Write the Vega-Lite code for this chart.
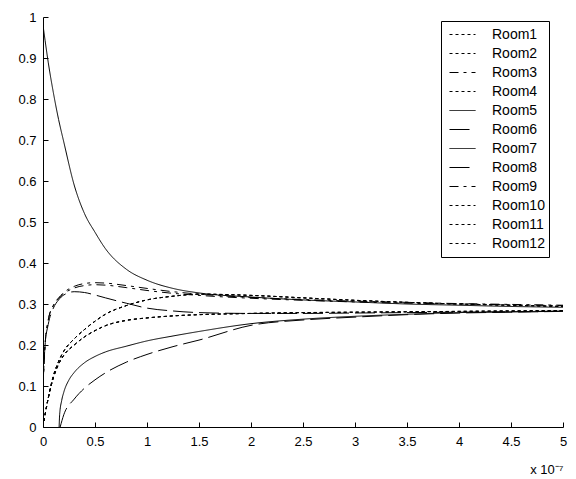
{
  "$schema": "https://vega.github.io/schema/vega-lite/v6.json",
  "width": 520,
  "height": 410,
  "autosize": {"type": "none"},
  "padding": {"left": 43, "top": 17, "right": 13, "bottom": 52},
  "background": "white",
  "config": {
    "view": {"stroke": null},
    "font": "Liberation Sans",
    "axis": {
      "domainColor": "black", "tickColor": "black", "labelColor": "black",
      "labelFont": "Liberation Sans", "labelFontSize": 13, "grid": false,
      "domainWidth": 1, "tickWidth": 1
    }
  },
  "data": {"values": [
    {"room":"Room7","t":0,"v":0.98},{"room":"Room7","t":0.02,"v":0.943},{"room":"Room7","t":0.05,"v":0.89},{"room":"Room7","t":0.1,"v":0.815},{"room":"Room7","t":0.15,"v":0.75},{"room":"Room7","t":0.2,"v":0.695},{"room":"Room7","t":0.3,"v":0.59},{"room":"Room7","t":0.4,"v":0.52},{"room":"Room7","t":0.5,"v":0.475},{"room":"Room7","t":0.6,"v":0.435},{"room":"Room7","t":0.8,"v":0.385},{"room":"Room7","t":1,"v":0.358},{"room":"Room7","t":1.25,"v":0.338},{"room":"Room7","t":1.5,"v":0.327},{"room":"Room7","t":2,"v":0.317},{"room":"Room7","t":2.5,"v":0.31},{"room":"Room7","t":3,"v":0.305},{"room":"Room7","t":3.5,"v":0.3},{"room":"Room7","t":4,"v":0.297},{"room":"Room7","t":4.5,"v":0.294},{"room":"Room7","t":5,"v":0.292},

    {"room":"Room3","t":0,"v":0.1},{"room":"Room3","t":0.02,"v":0.2},{"room":"Room3","t":0.05,"v":0.26},{"room":"Room3","t":0.1,"v":0.297},{"room":"Room3","t":0.15,"v":0.315},{"room":"Room3","t":0.2,"v":0.328},{"room":"Room3","t":0.3,"v":0.343},{"room":"Room3","t":0.4,"v":0.35},{"room":"Room3","t":0.5,"v":0.352},{"room":"Room3","t":0.6,"v":0.351},{"room":"Room3","t":0.8,"v":0.345},{"room":"Room3","t":1,"v":0.338},{"room":"Room3","t":1.25,"v":0.33},{"room":"Room3","t":1.5,"v":0.324},{"room":"Room3","t":2,"v":0.316},{"room":"Room3","t":2.5,"v":0.311},{"room":"Room3","t":3,"v":0.307},{"room":"Room3","t":3.5,"v":0.304},{"room":"Room3","t":4,"v":0.301},{"room":"Room3","t":4.5,"v":0.299},{"room":"Room3","t":5,"v":0.297},

    {"room":"Room9","t":0,"v":0.1},{"room":"Room9","t":0.02,"v":0.2},{"room":"Room9","t":0.05,"v":0.26},{"room":"Room9","t":0.1,"v":0.296},{"room":"Room9","t":0.15,"v":0.313},{"room":"Room9","t":0.2,"v":0.325},{"room":"Room9","t":0.3,"v":0.339},{"room":"Room9","t":0.4,"v":0.345},{"room":"Room9","t":0.5,"v":0.347},{"room":"Room9","t":0.6,"v":0.346},{"room":"Room9","t":0.8,"v":0.34},{"room":"Room9","t":1,"v":0.333},{"room":"Room9","t":1.25,"v":0.326},{"room":"Room9","t":1.5,"v":0.321},{"room":"Room9","t":2,"v":0.314},{"room":"Room9","t":2.5,"v":0.309},{"room":"Room9","t":3,"v":0.305},{"room":"Room9","t":3.5,"v":0.302},{"room":"Room9","t":4,"v":0.3},{"room":"Room9","t":4.5,"v":0.298},{"room":"Room9","t":5,"v":0.296},

    {"room":"Room8","t":0,"v":0.1},{"room":"Room8","t":0.02,"v":0.2},{"room":"Room8","t":0.05,"v":0.25},{"room":"Room8","t":0.1,"v":0.29},{"room":"Room8","t":0.15,"v":0.31},{"room":"Room8","t":0.2,"v":0.322},{"room":"Room8","t":0.3,"v":0.33},{"room":"Room8","t":0.4,"v":0.328},{"room":"Room8","t":0.5,"v":0.322},{"room":"Room8","t":0.6,"v":0.315},{"room":"Room8","t":0.8,"v":0.302},{"room":"Room8","t":1,"v":0.29},{"room":"Room8","t":1.25,"v":0.283},{"room":"Room8","t":1.5,"v":0.279},{"room":"Room8","t":2,"v":0.277},{"room":"Room8","t":2.5,"v":0.277},{"room":"Room8","t":3,"v":0.278},{"room":"Room8","t":3.5,"v":0.279},{"room":"Room8","t":4,"v":0.28},{"room":"Room8","t":4.5,"v":0.281},{"room":"Room8","t":5,"v":0.282},

    {"room":"Room1","t":0,"v":0},{"room":"Room1","t":0.02,"v":0.03},{"room":"Room1","t":0.05,"v":0.07},{"room":"Room1","t":0.1,"v":0.125},{"room":"Room1","t":0.15,"v":0.16},{"room":"Room1","t":0.2,"v":0.185},{"room":"Room1","t":0.3,"v":0.215},{"room":"Room1","t":0.4,"v":0.238},{"room":"Room1","t":0.5,"v":0.258},{"room":"Room1","t":0.6,"v":0.275},{"room":"Room1","t":0.8,"v":0.296},{"room":"Room1","t":1,"v":0.31},{"room":"Room1","t":1.25,"v":0.319},{"room":"Room1","t":1.5,"v":0.324},{"room":"Room1","t":2,"v":0.321},{"room":"Room1","t":2.5,"v":0.315},{"room":"Room1","t":3,"v":0.309},{"room":"Room1","t":3.5,"v":0.304},{"room":"Room1","t":4,"v":0.3},{"room":"Room1","t":4.5,"v":0.297},{"room":"Room1","t":5,"v":0.294},

    {"room":"Room4","t":0,"v":0},{"room":"Room4","t":0.02,"v":0.03},{"room":"Room4","t":0.05,"v":0.07},{"room":"Room4","t":0.1,"v":0.125},{"room":"Room4","t":0.15,"v":0.16},{"room":"Room4","t":0.2,"v":0.185},{"room":"Room4","t":0.3,"v":0.215},{"room":"Room4","t":0.4,"v":0.238},{"room":"Room4","t":0.5,"v":0.258},{"room":"Room4","t":0.6,"v":0.275},{"room":"Room4","t":0.8,"v":0.296},{"room":"Room4","t":1,"v":0.31},{"room":"Room4","t":1.25,"v":0.319},{"room":"Room4","t":1.5,"v":0.324},{"room":"Room4","t":2,"v":0.321},{"room":"Room4","t":2.5,"v":0.315},{"room":"Room4","t":3,"v":0.309},{"room":"Room4","t":3.5,"v":0.304},{"room":"Room4","t":4,"v":0.3},{"room":"Room4","t":4.5,"v":0.297},{"room":"Room4","t":5,"v":0.294},

    {"room":"Room10","t":0,"v":0},{"room":"Room10","t":0.02,"v":0.03},{"room":"Room10","t":0.05,"v":0.07},{"room":"Room10","t":0.1,"v":0.125},{"room":"Room10","t":0.15,"v":0.16},{"room":"Room10","t":0.2,"v":0.185},{"room":"Room10","t":0.3,"v":0.215},{"room":"Room10","t":0.4,"v":0.238},{"room":"Room10","t":0.5,"v":0.258},{"room":"Room10","t":0.6,"v":0.275},{"room":"Room10","t":0.8,"v":0.296},{"room":"Room10","t":1,"v":0.31},{"room":"Room10","t":1.25,"v":0.319},{"room":"Room10","t":1.5,"v":0.324},{"room":"Room10","t":2,"v":0.321},{"room":"Room10","t":2.5,"v":0.315},{"room":"Room10","t":3,"v":0.309},{"room":"Room10","t":3.5,"v":0.304},{"room":"Room10","t":4,"v":0.3},{"room":"Room10","t":4.5,"v":0.297},{"room":"Room10","t":5,"v":0.294},

    {"room":"Room2","t":0,"v":0},{"room":"Room2","t":0.02,"v":0.03},{"room":"Room2","t":0.05,"v":0.07},{"room":"Room2","t":0.1,"v":0.12},{"room":"Room2","t":0.15,"v":0.153},{"room":"Room2","t":0.2,"v":0.175},{"room":"Room2","t":0.3,"v":0.2},{"room":"Room2","t":0.4,"v":0.22},{"room":"Room2","t":0.5,"v":0.235},{"room":"Room2","t":0.6,"v":0.247},{"room":"Room2","t":0.8,"v":0.26},{"room":"Room2","t":1,"v":0.266},{"room":"Room2","t":1.25,"v":0.271},{"room":"Room2","t":1.5,"v":0.274},{"room":"Room2","t":2,"v":0.277},{"room":"Room2","t":2.5,"v":0.279},{"room":"Room2","t":3,"v":0.28},{"room":"Room2","t":3.5,"v":0.281},{"room":"Room2","t":4,"v":0.282},{"room":"Room2","t":4.5,"v":0.283},{"room":"Room2","t":5,"v":0.284},

    {"room":"Room11","t":0,"v":0},{"room":"Room11","t":0.02,"v":0.03},{"room":"Room11","t":0.05,"v":0.07},{"room":"Room11","t":0.1,"v":0.12},{"room":"Room11","t":0.15,"v":0.153},{"room":"Room11","t":0.2,"v":0.175},{"room":"Room11","t":0.3,"v":0.2},{"room":"Room11","t":0.4,"v":0.22},{"room":"Room11","t":0.5,"v":0.235},{"room":"Room11","t":0.6,"v":0.247},{"room":"Room11","t":0.8,"v":0.26},{"room":"Room11","t":1,"v":0.266},{"room":"Room11","t":1.25,"v":0.271},{"room":"Room11","t":1.5,"v":0.274},{"room":"Room11","t":2,"v":0.277},{"room":"Room11","t":2.5,"v":0.279},{"room":"Room11","t":3,"v":0.28},{"room":"Room11","t":3.5,"v":0.281},{"room":"Room11","t":4,"v":0.282},{"room":"Room11","t":4.5,"v":0.283},{"room":"Room11","t":5,"v":0.284},

    {"room":"Room12","t":0,"v":0},{"room":"Room12","t":0.02,"v":0.03},{"room":"Room12","t":0.05,"v":0.07},{"room":"Room12","t":0.1,"v":0.12},{"room":"Room12","t":0.15,"v":0.153},{"room":"Room12","t":0.2,"v":0.175},{"room":"Room12","t":0.3,"v":0.2},{"room":"Room12","t":0.4,"v":0.22},{"room":"Room12","t":0.5,"v":0.235},{"room":"Room12","t":0.6,"v":0.247},{"room":"Room12","t":0.8,"v":0.26},{"room":"Room12","t":1,"v":0.266},{"room":"Room12","t":1.25,"v":0.271},{"room":"Room12","t":1.5,"v":0.274},{"room":"Room12","t":2,"v":0.277},{"room":"Room12","t":2.5,"v":0.279},{"room":"Room12","t":3,"v":0.28},{"room":"Room12","t":3.5,"v":0.281},{"room":"Room12","t":4,"v":0.282},{"room":"Room12","t":4.5,"v":0.283},{"room":"Room12","t":5,"v":0.284},

    {"room":"Room5","t":0.155,"v":0},{"room":"Room5","t":0.16,"v":0.03},{"room":"Room5","t":0.18,"v":0.065},{"room":"Room5","t":0.2,"v":0.085},{"room":"Room5","t":0.25,"v":0.115},{"room":"Room5","t":0.3,"v":0.133},{"room":"Room5","t":0.4,"v":0.157},{"room":"Room5","t":0.5,"v":0.172},{"room":"Room5","t":0.6,"v":0.183},{"room":"Room5","t":0.8,"v":0.197},{"room":"Room5","t":1,"v":0.21},{"room":"Room5","t":1.25,"v":0.222},{"room":"Room5","t":1.5,"v":0.233},{"room":"Room5","t":2,"v":0.252},{"room":"Room5","t":2.5,"v":0.263},{"room":"Room5","t":3,"v":0.27},{"room":"Room5","t":3.5,"v":0.275},{"room":"Room5","t":4,"v":0.279},{"room":"Room5","t":4.5,"v":0.281},{"room":"Room5","t":5,"v":0.283},

    {"room":"Room6","t":0.165,"v":0},{"room":"Room6","t":0.2,"v":0.03},{"room":"Room6","t":0.3,"v":0.068},{"room":"Room6","t":0.4,"v":0.095},{"room":"Room6","t":0.5,"v":0.115},{"room":"Room6","t":0.6,"v":0.132},{"room":"Room6","t":0.8,"v":0.158},{"room":"Room6","t":1,"v":0.177},{"room":"Room6","t":1.25,"v":0.196},{"room":"Room6","t":1.5,"v":0.212},{"room":"Room6","t":2,"v":0.248},{"room":"Room6","t":2.5,"v":0.261},{"room":"Room6","t":3,"v":0.268},{"room":"Room6","t":3.5,"v":0.274},{"room":"Room6","t":4,"v":0.278},{"room":"Room6","t":4.5,"v":0.28},{"room":"Room6","t":5,"v":0.282}
  ]},
  "mark": {"type": "line", "color": "black", "strokeWidth": 1, "interpolate": "monotone", "clip": true},
  "encoding": {
    "x": {
      "field": "t", "type": "quantitative",
      "scale": {"domain": [0, 5], "nice": false, "zero": false},
      "axis": {
        "values": [0, 0.5, 1, 1.5, 2, 2.5, 3, 3.5, 4, 4.5, 5],
        "ticks": true, "tickSize": -5, "tickColor": "black",
        "format": ".1~f", "labelPadding": 13, "labelFlush": false,
        "title": "x 10⁻⁷", "titleAnchor": "end", "titleAlign": "right",
        "titleFontWeight": "normal", "titleFontSize": 13, "titleFont": "Liberation Sans",
        "titleColor": "black", "titleBaseline": "alphabetic", "titleY": 46, "titleX": 520
      }
    },
    "y": {
      "field": "v", "type": "quantitative",
      "scale": {"domain": [0, 1], "nice": false},
      "axis": {
        "values": [0, 0.1, 0.2, 0.3, 0.4, 0.5, 0.6, 0.7, 0.8, 0.9, 1],
        "ticks": true, "tickSize": -5, "tickColor": "black",
        "format": ".1~f", "labelPadding": 12, "labelFlush": false, "title": null
      }
    },
    "detail": {"field": "room"},
    "strokeDash": {
      "field": "room", "type": "nominal",
      "scale": {
        "domain": ["Room1","Room2","Room3","Room4","Room5","Room6","Room7","Room8","Room9","Room10","Room11","Room12"],
        "range": [[3,3],[3,3],[9,5,3,5],[3,3],[1,0],[20,6],[1,0],[20,6],[9,5,3,5],[3,3],[3,3],[3,3]]
      },
      "legend": {
        "title": null, "orient": "none", "legendX": 398, "legendY": 4,
        "strokeColor": "black", "fillColor": "white", "padding": 4,
        "symbolType": "stroke", "symbolSize": 676, "symbolStrokeColor": "black", "symbolStrokeWidth": 1,
        "symbolOffset": 4, "clipHeight": 19, 
        "labelFont": "Liberation Sans", "labelFontSize": 14, "labelColor": "black",
        "labelOffset": 16, "rowPadding": 0, "cornerRadius": 0
      }
    }
  }
}
